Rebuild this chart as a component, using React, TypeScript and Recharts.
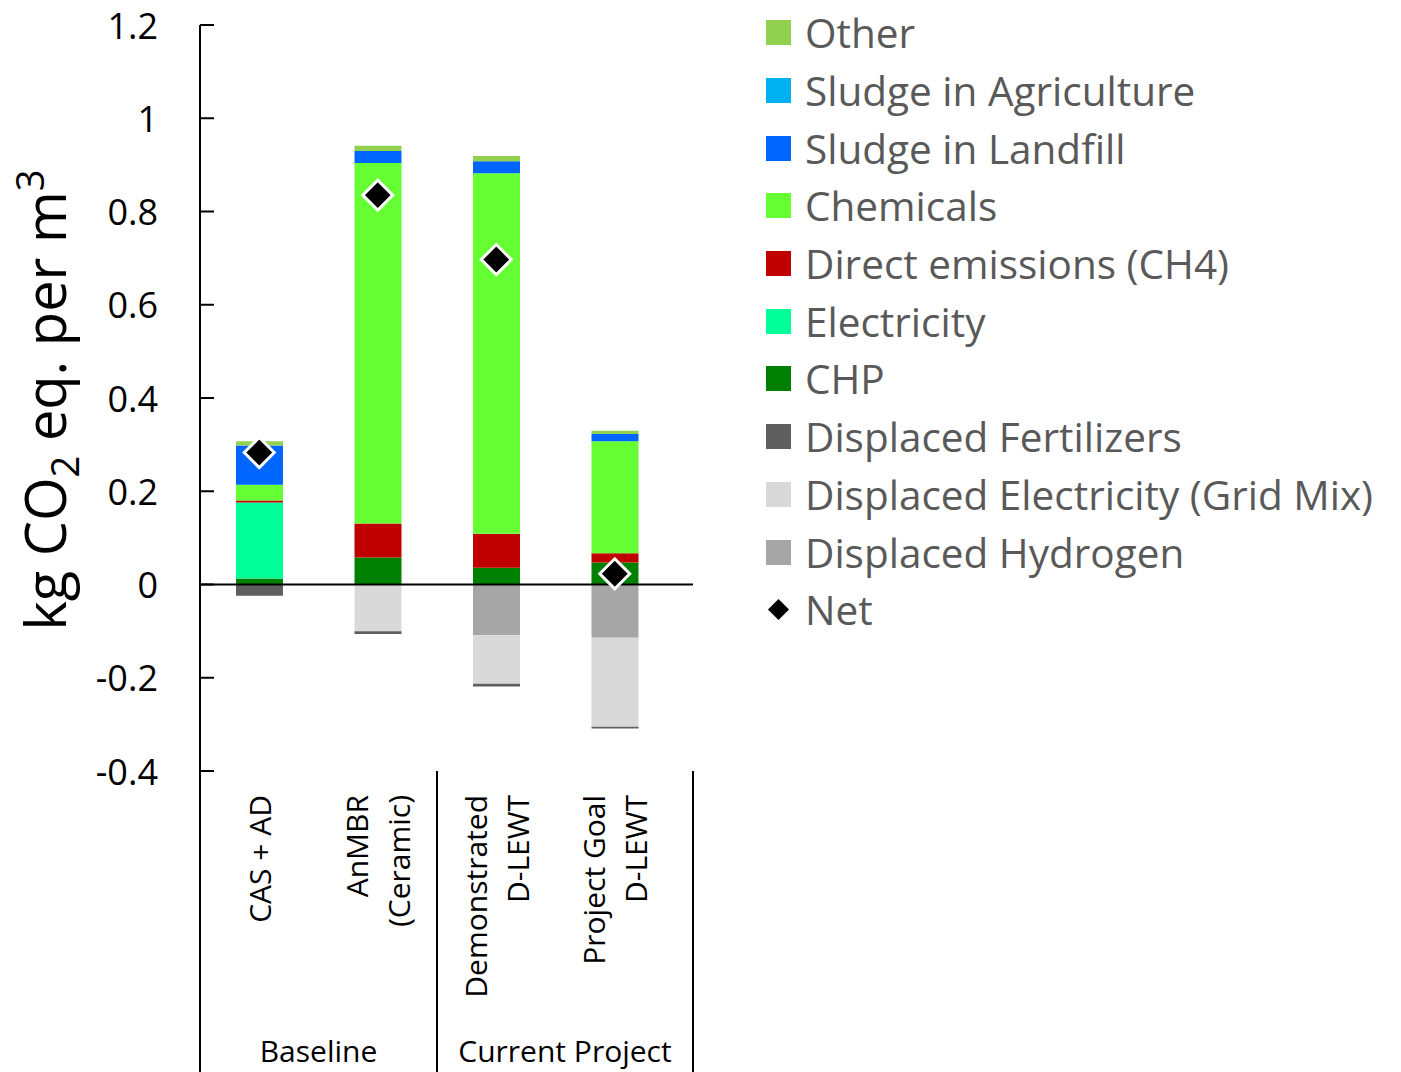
import React from "react";
import {
  ComposedChart,
  Bar,
  Line,
  XAxis,
  YAxis,
  ReferenceLine,
  Customized,
} from "recharts";

const FONT = "'Open Sans', sans-serif";

// categories (one per bar) and how each label wraps
const categories = ["CAS + AD", "AnMBR (Ceramic)", "Demonstrated D-LEWT", "Project Goal D-LEWT"];
const categoryLines: string[][] = [
  ["CAS + AD"],
  ["AnMBR", "(Ceramic)"],
  ["Demonstrated", "D-LEWT"],
  ["Project Goal", "D-LEWT"],
];
const groupLabels = ["Baseline", "Current Project"];

// series values, kg CO2 eq. per m3
const displacedHydrogen = [0, 0, -0.109, -0.114];
const displacedElectricity = [0, -0.1, -0.104, -0.191];
const displacedFertilizers = [-0.024, -0.006, -0.006, -0.004];
const chp = [0.013, 0.058, 0.036, 0.047];
const electricity = [0.163, 0, 0, 0];
const directEmissions = [0.004, 0.073, 0.073, 0.02];
const chemicals = [0.034, 0.773, 0.773, 0.24];
const sludgeLandfill = [0.084, 0.026, 0.026, 0.016];
const sludgeAgriculture = [0, 0, 0, 0];
const other = [0.009, 0.011, 0.011, 0.007];
const net = [0.283, 0.835, 0.697, 0.023];

const yTicks = [-0.4, -0.2, 0, 0.2, 0.4, 0.6, 0.8, 1, 1.2];

// stacking order (bottom to top); legend shows them reversed
const series = [
  { key: "displacedHydrogen", name: "Displaced Hydrogen", color: "#a6a6a6", values: displacedHydrogen },
  { key: "displacedElectricity", name: "Displaced Electricity (Grid Mix)", color: "#d9d9d9", values: displacedElectricity },
  { key: "displacedFertilizers", name: "Displaced Fertilizers", color: "#5f5f5f", values: displacedFertilizers },
  { key: "chp", name: "CHP", color: "#008000", values: chp },
  { key: "electricity", name: "Electricity", color: "#00ff99", values: electricity },
  { key: "direct", name: "Direct emissions (CH4)", color: "#c00000", values: directEmissions },
  { key: "chemicals", name: "Chemicals", color: "#66ff33", values: chemicals },
  { key: "landfill", name: "Sludge in Landfill", color: "#0066ff", values: sludgeLandfill },
  { key: "agriculture", name: "Sludge in Agriculture", color: "#00b0f0", values: sludgeAgriculture },
  { key: "other", name: "Other", color: "#92d050", values: other },
];

const data = categories.map((name, i) => {
  const row: Record<string, number | string> = { name, net: net[i] };
  series.forEach((s) => (row[s.key] = s.values[i]));
  return row;
});

const W = 1401;
const H = 1072;
const PLOT_LEFT = 200;
const PLOT_TOP = 25;
const PLOT_RIGHT = 693;
const X_AXIS_H = 301;
const PLOT_BOTTOM = H - X_AXIS_H;
const X_PAD_RIGHT = 19;

const YTick = (props: any) => {
  const { x, y, payload } = props;
  return (
    <g>
      <text x={x} y={y} textAnchor="end" dominantBaseline="central" fontSize={36} fontFamily={FONT} fill="#000">
        {String(payload.value)}
      </text>
      <line x1={x + 42} x2={x + 56} y1={y} y2={y} stroke="#000" strokeWidth={2} />
    </g>
  );
};

const XTick = (props: any) => {
  const { x, index } = props;
  const lines = categoryLines[index] || [];
  const n = lines.length;
  return (
    <g transform={`translate(${x}, ${PLOT_BOTTOM + 24}) rotate(-90)`}>
      {lines.map((l, i) => (
        <text
          key={i}
          x={0}
          y={(i - (n - 1) / 2) * 42}
          textAnchor="end"
          dominantBaseline="central"
          fontSize={30}
          fontFamily={FONT}
          fill="#000"
        >
          {l}
        </text>
      ))}
    </g>
  );
};

const Diamond = (props: any) => {
  const { cx, cy, index } = props;
  if (cx == null || cy == null) return null;
  const r = 15;
  return (
    <path
      key={index}
      d={`M${cx},${cy - r} L${cx + r},${cy} L${cx},${cy + r} L${cx - r},${cy} Z`}
      fill="#000"
      stroke="#fff"
      strokeWidth={3}
    />
  );
};

// category group box below the axis, plus y-axis title
const Decorations = () => {
  const band = (PLOT_RIGHT - PLOT_LEFT - X_PAD_RIGHT) / categories.length;
  const mid = PLOT_LEFT + band * 2;
  return (
    <g>
      <line x1={PLOT_LEFT} x2={PLOT_LEFT} y1={PLOT_BOTTOM} y2={H} stroke="#000" strokeWidth={2} />
      <line x1={mid} x2={mid} y1={PLOT_BOTTOM} y2={H} stroke="#000" strokeWidth={2} />
      <line x1={PLOT_RIGHT} x2={PLOT_RIGHT} y1={PLOT_BOTTOM} y2={H} stroke="#000" strokeWidth={2} />
      <text x={(PLOT_LEFT + mid) / 2} y={1062} textAnchor="middle" fontSize={30} fontFamily={FONT} fill="#000">
        {groupLabels[0]}
      </text>
      <text x={(mid + PLOT_RIGHT) / 2} y={1062} textAnchor="middle" fontSize={30} fontFamily={FONT} fill="#000">
        {groupLabels[1]}
      </text>
      <text transform="translate(66, 400) rotate(-90)" textAnchor="middle" fontSize={56} fontFamily={FONT} fill="#000">
        kg CO
        <tspan fontSize={38} dy={13}>2</tspan>
        <tspan dy={-13}> eq. per m</tspan>
        <tspan fontSize={38} dy={-22}>3</tspan>
      </text>
    </g>
  );
};

const legendItems = [...series].reverse();

export default function App() {
  return (
    <div style={{ position: "absolute", left: 0, top: 0, width: W, height: H, background: "#fff" }}>
      <ComposedChart
        width={W}
        height={H}
        data={data}
        stackOffset="sign"
        margin={{ top: PLOT_TOP, right: W - PLOT_RIGHT, bottom: 0, left: 0 }}
      >
        <XAxis
          dataKey="name"
          height={X_AXIS_H}
          interval={0}
          axisLine={false}
          tickLine={false}
          tick={<XTick />}
          padding={{ left: 0, right: X_PAD_RIGHT }}
        />
        <YAxis
          width={PLOT_LEFT}
          domain={[-0.4, 1.2]}
          ticks={yTicks}
          interval={0}
          tickSize={0}
          tickMargin={42}
          tickLine={false}
          axisLine={{ stroke: "#000", strokeWidth: 2 }}
          tick={<YTick />}
        />
        {series.map((s) => (
          <Bar
            key={s.key}
            dataKey={s.key}
            name={s.name}
            stackId="a"
            fill={s.color}
            barSize={47}
            isAnimationActive={false}
          />
        ))}
        <ReferenceLine y={0} stroke="#000" strokeWidth={2} />
        <Line
          dataKey="net"
          name="Net"
          stroke="none"
          dot={<Diamond />}
          activeDot={false}
          isAnimationActive={false}
        />
        <Customized component={Decorations} />
      </ComposedChart>
      <div style={{ position: "absolute", left: 766, top: 4, fontFamily: FONT }}>
        {legendItems.map((s) => (
          <div key={s.key} style={{ display: "flex", alignItems: "center", height: 57.7 }}>
            <span style={{ display: "inline-block", width: 25, height: 25, background: s.color }} />
            <span style={{ marginLeft: 14, fontSize: 40.5, color: "#595959", whiteSpace: "nowrap" }}>{s.name}</span>
          </div>
        ))}
        <div style={{ display: "flex", alignItems: "center", height: 57.7 }}>
          <svg width={25} height={25}>
            <path d="M12.5,2 L23,12.5 L12.5,23 L2,12.5 Z" fill="#000" />
          </svg>
          <span style={{ marginLeft: 14, fontSize: 40.5, color: "#595959" }}>Net</span>
        </div>
      </div>
    </div>
  );
}
